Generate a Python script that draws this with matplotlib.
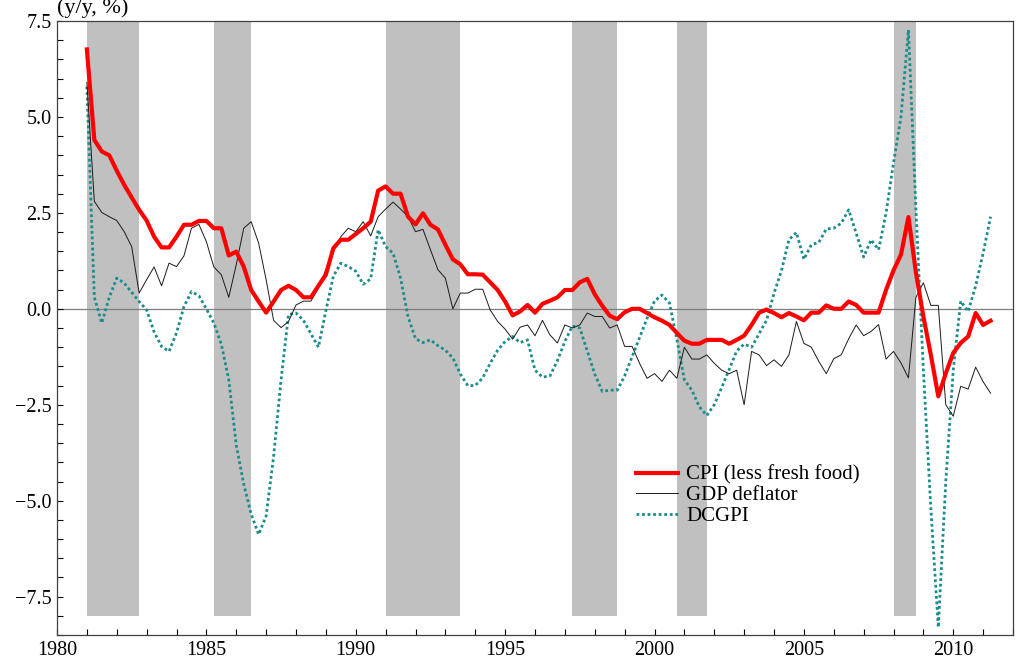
import numpy as np
import matplotlib
matplotlib.use('Agg')
import matplotlib.pyplot as plt
from matplotlib.ticker import MultipleLocator, FuncFormatter

# quarterly series, 1981Q1 .. 2011Q2 (y/y, %)
cpi = [6.76, 4.4, 4.1, 4.0,
       3.6, 3.23, 2.9, 2.58,
       2.3, 1.88, 1.6, 1.6,
       1.88, 2.19, 2.19, 2.29,
       2.29, 2.1, 2.1, 1.39,
       1.49, 1.1, 0.49, 0.19,
       -0.1, 0.19, 0.49, 0.6,
       0.49, 0.3, 0.3, 0.6,
       0.89, 1.58, 1.8, 1.8,
       1.95, 2.1, 2.27, 3.08,
       3.19, 3.0, 3.0, 2.4,
       2.2, 2.49, 2.19, 2.07,
       1.67, 1.29, 1.16, 0.9,
       0.9, 0.89, 0.69, 0.49,
       0.19, -0.17, -0.07, 0.1,
       -0.1, 0.13, 0.21, 0.3,
       0.49, 0.49, 0.69, 0.78,
       0.38, 0.08, -0.18, -0.27,
       -0.09, 0.0, 0.0, -0.11,
       -0.22, -0.31, -0.42, -0.63,
       -0.83, -0.91, -0.91, -0.81,
       -0.81, -0.81, -0.91, -0.81,
       -0.7, -0.42, -0.1, -0.02,
       -0.11, -0.22, -0.11, -0.2,
       -0.3, -0.1, -0.1, 0.09,
       0.0, 0.0, 0.19, 0.1,
       -0.1, -0.1, -0.1, 0.49,
       1.0, 1.41, 2.39, 0.95,
       -0.2, -1.2, -2.28, -1.68,
       -1.15, -0.89, -0.72, -0.11,
       -0.42, -0.31]

gdp_deflator = [5.9, 2.8, 2.51, 2.4,
                2.3, 2.01, 1.62, 0.41,
                0.76, 1.09, 0.6, 1.19,
                1.1, 1.38, 2.1, 2.2,
                1.75, 1.09, 0.89, 0.3,
                1.15, 2.1, 2.27, 1.71,
                0.76, -0.3, -0.49, -0.33,
                0.1, 0.2, 0.2, 0.54,
                1.02, 1.5, 1.88, 2.1,
                2.01, 2.27, 1.9, 2.4,
                2.6, 2.78, 2.6, 2.4,
                2.01, 2.07, 1.54, 1.02,
                0.8, 0.0, 0.41, 0.41,
                0.51, 0.51, -0.03, -0.33,
                -0.53, -0.79, -0.48, -0.42,
                -0.7, -0.3, -0.68, -0.89,
                -0.42, -0.5, -0.42, -0.11,
                -0.2, -0.2, -0.5, -0.42,
                -0.98, -0.98, -1.42, -1.81,
                -1.69, -1.89, -1.6, -1.81,
                -1.0, -1.31, -1.31, -1.2,
                -1.42, -1.6, -1.69, -1.6,
                -2.5, -1.11, -1.2, -1.48,
                -1.33, -1.5, -1.2, -0.33,
                -0.9, -1.0, -1.37, -1.69,
                -1.3, -1.2, -0.78, -0.42,
                -0.7, -0.59, -0.41, -1.31,
                -1.11, -1.41, -1.8, 0.3,
                0.68, 0.09, 0.09, -2.5,
                -2.8, -2.02, -2.09, -1.52,
                -1.9, -2.2]

dcgpi = [5.79, 0.3, -0.37, 0.3,
         0.8, 0.67, 0.43, 0.19,
         -0.03, -0.6, -0.98, -1.11,
         -0.63, 0.06, 0.45, 0.34,
         0.0, -0.37, -0.92, -1.85,
         -3.55, -4.57, -5.35, -5.88,
         -5.4, -3.85, -1.85, -0.15,
         -0.11, -0.3, -0.65, -1.0,
         -0.05, 0.85, 1.19, 1.1,
         0.98, 0.64, 0.78, 2.06,
         1.62, 1.45, 0.8, -0.2,
         -0.78, -0.88, -0.81, -0.96,
         -1.08, -1.28, -1.7, -2.0,
         -2.0, -1.8, -1.42, -1.08,
         -0.85, -0.72, -0.88, -0.81,
         -1.6, -1.78, -1.75, -1.35,
         -0.85, -0.45, -0.5, -1.1,
         -1.7, -2.15, -2.12, -2.12,
         -1.75, -1.25, -0.75, -0.25,
         0.2, 0.36, 0.15, -0.8,
         -1.85, -2.12, -2.55, -2.78,
         -2.5, -2.05, -1.58, -1.1,
         -0.92, -1.0, -0.65, -0.3,
         0.4, 1.0, 1.8, 1.99,
         1.29, 1.67, 1.73, 2.08,
         2.1, 2.23, 2.58, 1.97,
         1.35, 1.8, 1.54, 2.49,
         3.8, 5.0, 7.27, 2.6,
         -1.6, -5.2, -8.3, -4.5,
         -1.6, 0.2, -0.07, 0.6,
         1.45, 2.4]

# recession periods (shaded)
rec_start = [1981.0, 1985.25, 1991.0, 1997.25, 2000.75, 2008.0]
rec_end = [1982.75, 1986.5, 1993.5, 1998.75, 2001.75, 2008.75]

t = 1981.0 + 0.25 * np.arange(len(cpi))

plt.rcParams['font.family'] = ['Liberation Serif', 'DejaVu Serif']

fig = plt.figure(figsize=(10.24, 6.6), dpi=100)
ax = fig.add_axes([57/1024, 25/660, 956/1024, 614/660])

for s, e in zip(rec_start, rec_end):
    ax.fill_between([s, e], -8.0, 7.5, color='#c0c0c0', lw=0, zorder=0)

ax.axhline(0, color='#7f7f7f', lw=0.9, zorder=1)

l1, = ax.plot(t, cpi, color='#ff0000', lw=3.0, zorder=4, label='CPI (less fresh food)')
l2, = ax.plot(t, gdp_deflator, color='#1a1a1a', lw=0.7, zorder=3, label='GDP deflator')
l3, = ax.plot(t, dcgpi, color='#1a8c8c', lw=2.0, ls=(0, (1, 1)), zorder=2, label='DCGPI')

ax.set_xlim(1980, 2012)
ax.set_ylim(-8.5, 7.5)
ax.xaxis.set_major_locator(MultipleLocator(5))
ax.xaxis.set_minor_locator(MultipleLocator(1))
ax.yaxis.set_major_locator(MultipleLocator(2.5))
ax.yaxis.set_minor_locator(MultipleLocator(0.5))
ax.yaxis.set_major_formatter(FuncFormatter(lambda v, p: ('%.1f' % v).replace('-', '\u2212')))
ax.tick_params(which='both', direction='in', length=4, width=0.8, labelsize=14.5, pad=4)

for sp in ax.spines.values():
    sp.set_color('#404040')
    sp.set_linewidth(0.9)

ax.legend(handles=[l1, l2, l3], loc='upper left', bbox_to_anchor=(0.597, 0.29),
          frameon=False, fontsize=15, handlelength=2.0, handletextpad=0.4,
          labelspacing=0.05, borderaxespad=0)

fig.text(57/1024, 1 - 8/660, '(y/y, %)', fontsize=16, va='center', ha='left')

fig.savefig('out.png', dpi=100)
